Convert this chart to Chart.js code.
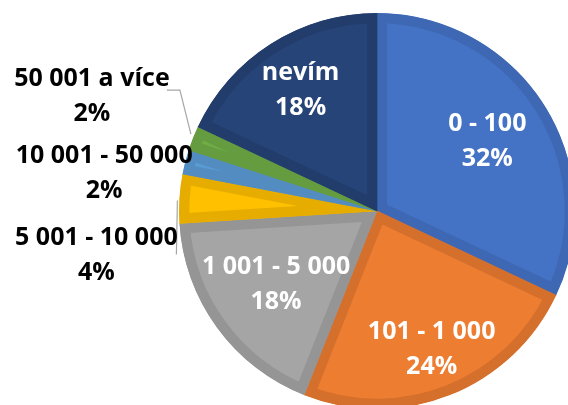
<!DOCTYPE html>
<html>
<head>
<meta charset="utf-8">
<script src="https://cdn.jsdelivr.net/npm/chart.js@4/dist/chart.umd.min.js"></script>
<style>
html,body{margin:0;padding:0;background:#fff;overflow:hidden;}
#wrap{position:relative;width:568px;height:405px;}
</style>
</head>
<body>
<div id="wrap"><canvas id="c" width="568" height="405"></canvas></div>
<script>
// ---- data ----
const categories = ["0 - 100", "101 - 1 000", "1 001 - 5 000", "5 001 - 10 000", "10 001 - 50 000", "50 001 a více", "nevím"];
const percentValues = [32, 24, 18, 4, 2, 2, 18];
const percentLabels = ["32%", "24%", "18%", "4%", "2%", "2%", "18%"];

// ---- styles ----
const fillColors = ["#4472C4", "#ED7D31", "#A5A5A5", "#FFC000", "#5B9BD5", "#70AD47", "#264478"];
const edgeColors = ["#3E68B3", "#D5702C", "#959595", "#E6AD00", "#528CC0", "#659C40", "#223D6C"];
// label placement: inside -> radius factor; outside -> offset from slice edge
const labelPlacement = [
  {inside: true, f: 0.66},
  {inside: true, f: 0.75},
  {inside: true, f: 0.63},
  {inside: false, dx: -83, dy: 57, leader: "down"},
  {inside: false, dx: -81, dy: 12},
  {inside: false, dx: -101, dy: -42, leader: "elbow"},
  {inside: true, f: 0.72}
];

const labelPlugin = {
  id: 'sliceLabels',
  afterDatasetsDraw(chart) {
    const ctx = chart.ctx;
    const meta = chart.getDatasetMeta(0);
    ctx.save();
    ctx.font = "bold 25px 'Open Sans'";
    ctx.textAlign = "center";
    ctx.textBaseline = "middle";
    const lh = 35;
    meta.data.forEach((arc, i) => {
      const p = arc.getProps(['x','y','startAngle','endAngle','outerRadius'], true);
      const mid = (p.startAngle + p.endAngle) / 2;
      const pl = labelPlacement[i];
      let cx, cy;
      if (pl.inside) {
        cx = p.x + Math.cos(mid) * p.outerRadius * pl.f;
        cy = p.y + Math.sin(mid) * p.outerRadius * pl.f;
        ctx.fillStyle = "#FFFFFF";
      } else {
        const ex = p.x + Math.cos(mid) * p.outerRadius;
        const ey = p.y + Math.sin(mid) * p.outerRadius;
        cx = ex + pl.dx;
        cy = ey + pl.dy;
        ctx.strokeStyle = "#A6A6A6";
        ctx.lineWidth = 1.2;
        if (pl.leader === "elbow") {
          ctx.beginPath();
          ctx.moveTo(ex - 2, ey - 4);
          ctx.lineTo(ex - 13, cy - 6);
          ctx.lineTo(ex - 26, cy - 6);
          ctx.stroke();
        } else if (pl.leader === "down") {
          ctx.beginPath();
          ctx.moveTo(ex - 2, ey + 2);
          ctx.lineTo(ex - 3, ey + 56);
          ctx.stroke();
        }
        ctx.fillStyle = "#000000";
      }
      ctx.fillText(categories[i], cx, cy - lh / 2);
      ctx.fillText(percentLabels[i], cx, cy + lh / 2);
    });
    ctx.restore();
  }
};

new Chart(document.getElementById('c'), {
  type: 'pie',
  data: {
    labels: categories,
    datasets: [{
      data: percentValues,
      backgroundColor: fillColors,
      borderColor: edgeColors,
      borderWidth: 10,
      borderAlign: 'inner',
      radius: 198,
      clip: false
    }]
  },
  options: {
    responsive: false,
    animation: false,
    layout: {padding: {left: 186, top: 17, right: 0, bottom: 0}},
    plugins: {legend: {display: false}, tooltip: {enabled: false}}
  },
  plugins: [labelPlugin]
});
</script>
</body>
</html>
